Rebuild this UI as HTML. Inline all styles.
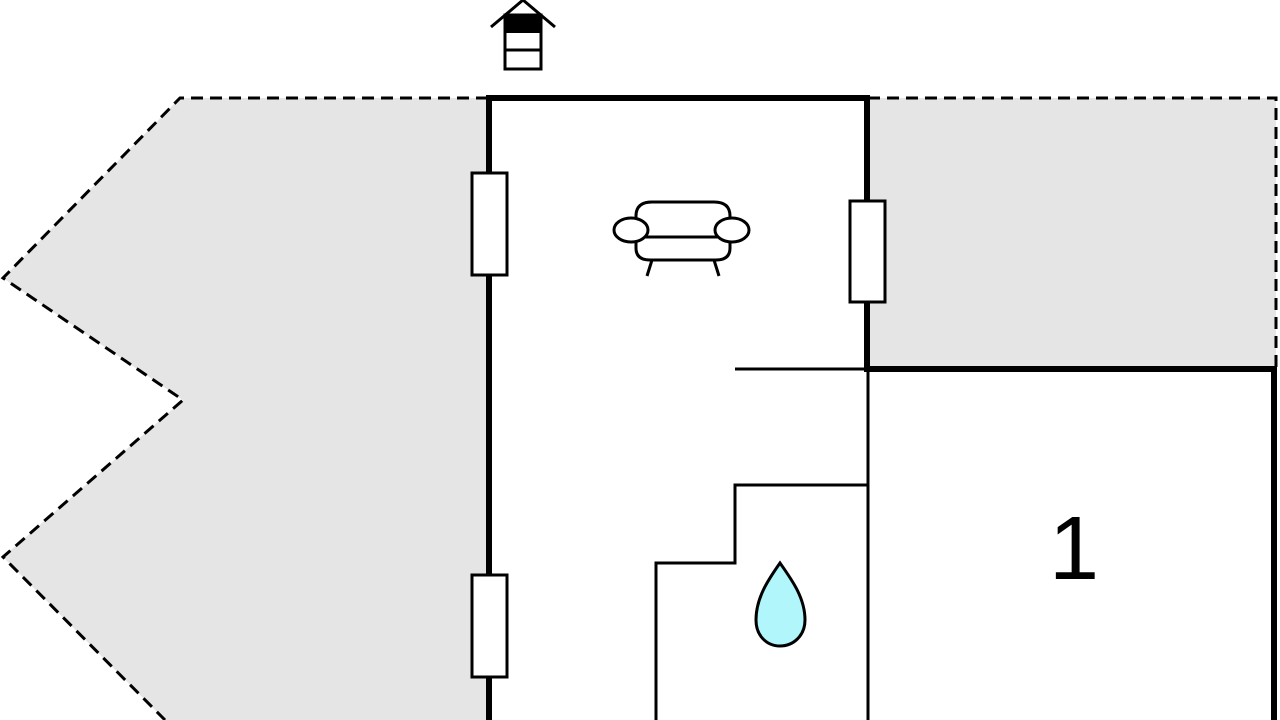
<!DOCTYPE html>
<html><head><meta charset="utf-8"><style>html,body{margin:0;padding:0;background:#fff}svg{display:block}</style></head>
<body>
<svg width="1280" height="720" viewBox="0 0 1280 720" xmlns="http://www.w3.org/2000/svg">
<rect width="1280" height="720" fill="#fff"/>
<!-- left grey -->
<polygon points="180,98 488,98 488,720 165,720 3,557 183,400 3,278" fill="#e5e5e5"/>
<polyline points="488,98 180,98 3,278 183,400 3,557 165,720" fill="none" stroke="#000" stroke-width="3" stroke-dasharray="12,7"/>
<!-- right grey -->
<rect x="868" y="98" width="408" height="270" fill="#e5e5e5"/>
<polyline points="868,98 1276,98 1276,368" fill="none" stroke="#000" stroke-width="3" stroke-dasharray="12,7"/>
<!-- thick walls -->
<polyline points="489,720 489,98 867,98 867,369 1274,369 1274,720" fill="none" stroke="#000" stroke-width="6"/>
<!-- thin walls -->
<g fill="none" stroke="#000" stroke-width="3">
<line x1="868" y1="369" x2="868" y2="720"/>
<line x1="735" y1="369" x2="867" y2="369"/>
<polyline points="868,485 735,485 735,563 656,563 656,720"/>
</g>
<!-- windows -->
<g fill="#fff" stroke="#000" stroke-width="3">
<rect x="472" y="173" width="35" height="102"/>
<rect x="472" y="575" width="35" height="102"/>
<rect x="850" y="201" width="35" height="101"/>
</g>
<!-- sofa -->
<g fill="#fff" stroke="#000" stroke-width="3">
<line x1="652" y1="260" x2="647" y2="276"/>
<line x1="714" y1="260" x2="719" y2="276"/>
<path d="M636,230 L636,216 Q636,202 652,202 L714,202 Q730,202 730,216 L730,230 L730,248 Q730,260 716,260 L650,260 Q636,260 636,248 Z"/>
<line x1="640" y1="237" x2="726" y2="237"/>
<ellipse cx="631" cy="230" rx="17" ry="12"/>
<ellipse cx="732" cy="230" rx="17" ry="12"/>
</g>
<!-- drop -->
<path d="M780,563 C768,580 756,598 756,620 C756,636 767,646 780,646 C793,646 805,636 805,620 C805,598 792,580 780,563 Z" fill="#b0f6fa" stroke="#000" stroke-width="3"/>
<text x="1074" y="579" font-family="Liberation Sans, sans-serif" font-size="90" text-anchor="middle">1</text>
<!-- icon -->
<g fill="none" stroke="#000" stroke-width="3">
<polyline points="491,27 523,0 555,27"/>
<rect x="505" y="15" width="36" height="54" fill="#fff"/>
<line x1="505" y1="50" x2="541" y2="50"/>
</g>
<rect x="505" y="15" width="36" height="18" fill="#000"/>
</svg>
</body></html>
